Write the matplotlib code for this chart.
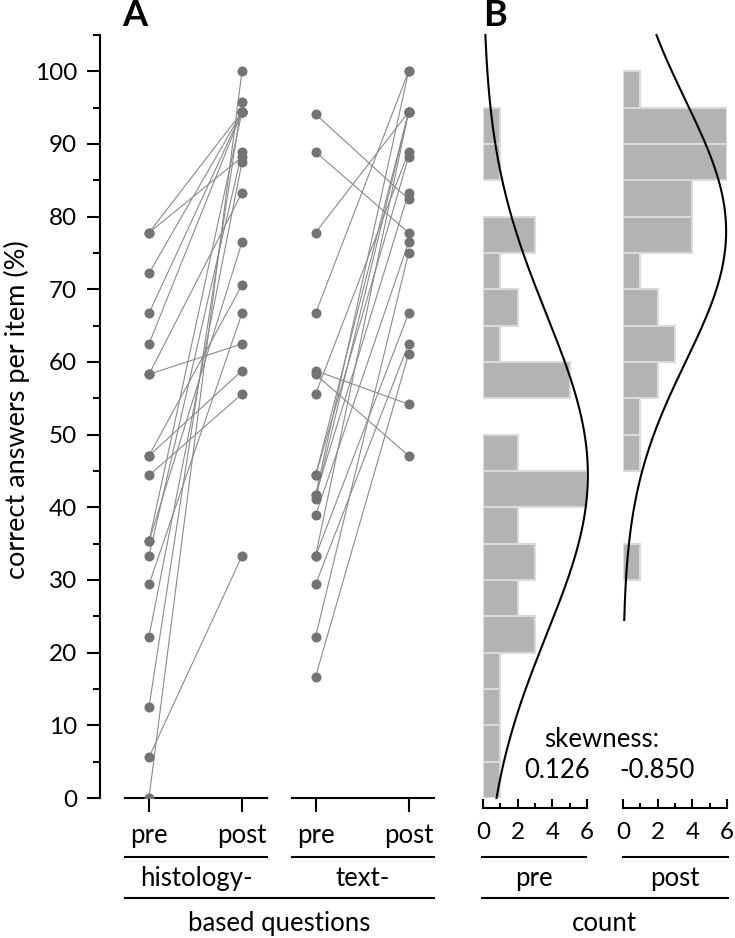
import numpy as np
import matplotlib.pyplot as plt
from matplotlib.lines import Line2D

plt.rcParams['font.family'] = ['Lato', 'DejaVu Sans']
plt.rcParams['font.size'] = 17.5

W, H = 735, 938

# correct answers per item (%), paired pre -> post
histology_pre = [77.8, 77.8, 72.2, 66.7, 62.5, 58.3, 58.3, 47.1, 47.1,
                 44.4, 35.3, 35.3, 33.3, 29.4, 22.2, 12.5, 5.6, 0.0]
histology_post = [94.4, 88.2, 94.4, 94.4, 94.4, 83.3, 62.5, 70.6, 58.8,
                  55.6, 76.5, 94.4, 88.9, 66.7, 87.5, 95.8, 33.3, 100.0]
text_pre = [94.1, 88.9, 77.8, 66.7, 58.8, 58.3, 55.6, 44.4, 44.4,
            41.7, 41.7, 41.2, 38.9, 33.3, 33.3, 29.4, 22.2, 16.7]
text_post = [82.4, 77.8, 94.4, 100.0, 54.2, 47.1, 88.9, 88.2, 94.4,
             83.3, 100.0, 94.4, 76.5, 66.7, 94.4, 62.5, 75.0, 61.1]

# histograms (bins of 5 %)
bin_lower = list(range(0, 100, 5))
pre_counts = [1, 1, 1, 1, 3, 2, 3, 2, 6, 2, 0, 5, 1, 2, 1, 3, 0, 1, 1, 0]
post_counts = [0, 0, 0, 0, 0, 0, 1, 0, 0, 1, 1, 2, 3, 2, 1, 4, 4, 6, 6, 1]

# normal fits: mean, sd, peak count, drawn range
pre_fit = (44.5, 22.0, 6.05, 0.0, 105.0)
post_fit = (78.0, 18.0, 5.95, 24.5, 105.0)
skew_pre, skew_post = 0.126, -0.850

PT = 0.72  # points per pixel at 100 dpi
LABEL_SIZE = 18.5


def fx(px):
    return px / W


def fy(py):
    return 1 - py / H


fig = plt.figure(figsize=(W / 100, H / 100), dpi=100)


def add_ax(x0, x1):
    return fig.add_axes([fx(x0), fy(798), (x1 - x0) / W, (798 - 35) / H])


ax_h = add_ax(125, 267)
ax_t = add_ax(291.6, 433.6)

for ax, pre, post in [(ax_h, histology_pre, histology_post),
                      (ax_t, text_pre, text_post)]:
    for a, b in zip(pre, post):
        ax.plot([0, 1], [a, b], color='#8a8a8a', lw=0.8, zorder=2)
    ax.scatter(np.zeros(len(pre)), pre, s=52, color='#737373', lw=0, zorder=3)
    ax.scatter(np.ones(len(post)), post, s=52, color='#737373', lw=0, zorder=3)
    ax.set_xlim(-0.258, 1.269)
    ax.set_ylim(0, 105)
    for s in ['top', 'right']:
        ax.spines[s].set_visible(False)
    ax.spines['bottom'].set_linewidth(1.5)
    ax.set_xticks([0, 1], ['pre', 'post'], fontsize=LABEL_SIZE)
    ax.tick_params(axis='x', direction='out', length=14 * PT, width=1.5, pad=8)

ax_h.spines['left'].set_position(('outward', 25 * PT))
ax_h.spines['left'].set_linewidth(1.5)
ax_h.set_yticks(range(0, 101, 10))
ax_h.set_yticks(range(5, 106, 10), minor=True)
ax_h.tick_params(axis='y', which='major', length=13 * PT, width=1.5, pad=7)
ax_h.tick_params(axis='y', which='minor', length=7 * PT, width=1.5)

ax_t.spines['left'].set_visible(False)
ax_t.set_yticks([])

# panel B histograms
ax_p = add_ax(483, 587)
ax_q = add_ax(623, 727)
for ax, counts, fit in [(ax_p, pre_counts, pre_fit), (ax_q, post_counts, post_fit)]:
    lo = [b for b, c in zip(bin_lower, counts) if c > 0]
    cs = [c for c in counts if c > 0]
    ax.barh(lo, cs, height=5, align='edge', color='#b3b3b3',
            edgecolor='#dadada', lw=1.5, zorder=2)
    mu, sd, peak, v0, v1 = fit
    v = np.linspace(v0, v1, 400)
    ax.plot(peak * np.exp(-0.5 * ((v - mu) / sd) ** 2), v, color='black',
            lw=1.5, zorder=3, clip_on=False)
    ax.set_xlim(0, 6)
    ax.set_ylim(0, 105)
    for s in ['top', 'right', 'left']:
        ax.spines[s].set_visible(False)
    ax.spines['bottom'].set_position(('outward', 10 * PT))
    ax.spines['bottom'].set_linewidth(1.5)
    ax.set_yticks([])
    ax.set_xticks([0, 2, 4, 6])
    ax.set_xticks([1, 3, 5], minor=True)
    ax.tick_params(axis='x', which='major', direction='in', length=9 * PT, width=1.5, pad=10)
    ax.tick_params(axis='x', which='minor', direction='in', length=5 * PT, width=1.5)


# brackets and group labels
def bracket(x0, x1, y):
    fig.add_artist(Line2D([fx(x0), fx(x1)], [fy(y), fy(y)], color='black', lw=1.5))


bracket(125, 267, 857)
bracket(291.6, 433.6, 857)
bracket(125, 433.6, 898)
bracket(481.5, 586, 857)
bracket(622.5, 727.5, 857)
bracket(481.5, 727.5, 898)

kw = dict(ha='center', va='center', fontsize=LABEL_SIZE)
fig.text(fx(196), fy(878), 'histology-', **kw)
fig.text(fx(362.6), fy(878), 'text-', **kw)
fig.text(fx(279), fy(923), 'based questions', **kw)
fig.text(fx(534), fy(878), 'pre', **kw)
fig.text(fx(675), fy(878), 'post', **kw)
fig.text(fx(604), fy(923), 'count', **kw)

fig.text(fx(602), fy(739), 'skewness:', **kw)
fig.text(fx(557), fy(770), f'{skew_pre:.3f}', **kw)
fig.text(fx(657), fy(770), f'{skew_post:.3f}', **kw)

fig.text(fx(17), fy(410), 'correct answers per item (%)', rotation=90,
         ha='center', va='center', fontsize=19.5)
fig.text(fx(135), fy(16), 'A', ha='center', va='center', fontsize=26, fontweight='bold')
fig.text(fx(495), fy(16), 'B', ha='center', va='center', fontsize=26, fontweight='bold')

fig.savefig('out.png', dpi=100)
